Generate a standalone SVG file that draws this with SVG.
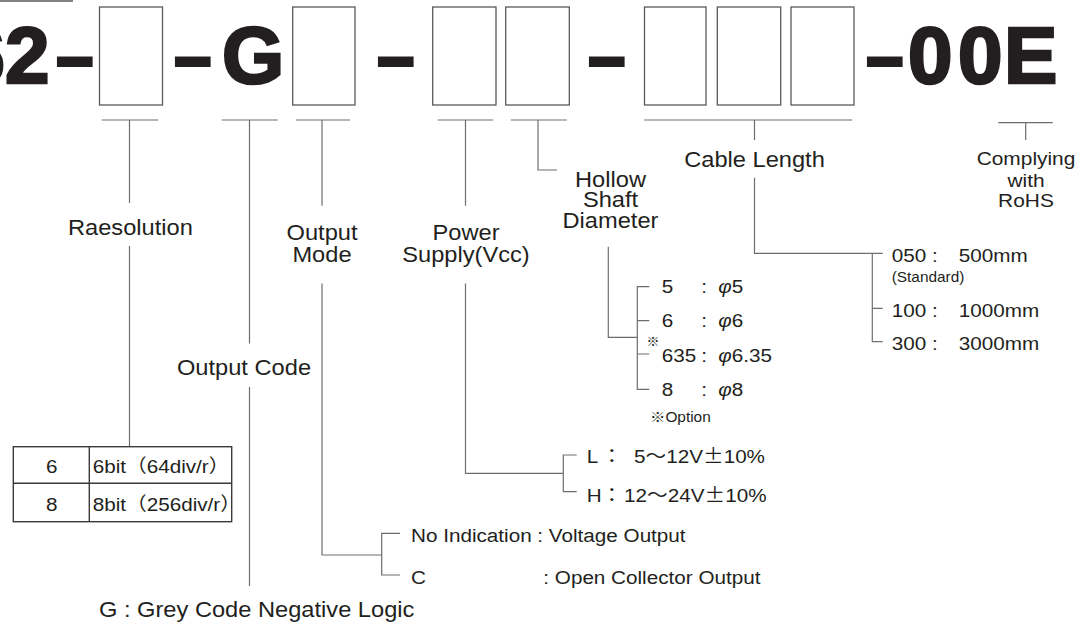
<svg xmlns="http://www.w3.org/2000/svg" width="1075" height="627" viewBox="0 0 1075 627">
<style>
.big{font-family:"Liberation Sans",Arial,sans-serif;font-weight:bold;font-size:80px;fill:#231f20;stroke:#231f20;stroke-width:2.6px}
.dash{font-family:"Liberation Sans",Arial,sans-serif;font-weight:bold;font-size:64px;fill:#231f20;stroke:#231f20;stroke-width:4px}
.t{font-family:"Liberation Sans",Arial,"Noto Sans CJK JP",sans-serif;fill:#231f20}
.lbl{font-size:21.5px}
.opt{font-size:18.8px}
.sm{font-size:14px}
.cjk{font-family:"Noto Sans CJK JP",sans-serif}
.box{fill:#fff;stroke:#58595b;stroke-width:1.3}
.ln{fill:none;stroke:#6d6e71;stroke-width:1.2}
.tbl{fill:none;stroke:#3a3a3c;stroke-width:1.4}
</style>
<rect width="1075" height="627" fill="#fff"/>
<g id="code">
<line x1="0" y1="1" x2="73" y2="1" stroke="#58595b" stroke-width="1.6"/>
<text class="big" x="-39.5 5" y="83">62</text>
<text class="dash" x="57" y="78.5">–</text>
<text class="dash" x="175" y="78.5">–</text>
<text class="big" x="222" y="83">G</text>
<text class="dash" x="378" y="78.5">–</text>
<text class="dash" x="589" y="78.5">–</text>
<text class="dash" x="867" y="78.5">–</text>
<text class="big" x="908 958 1004" y="83">00E</text>
<rect class="box" x="99.5" y="7" width="63" height="98"/>
<rect class="box" x="292.7" y="7" width="62.3" height="98"/>
<rect class="box" x="432.7" y="7" width="63.3" height="98"/>
<rect class="box" x="505.7" y="7" width="63.6" height="98"/>
<rect class="box" x="644.5" y="7" width="61.5" height="98"/>
<rect class="box" x="717.3" y="7" width="63.4" height="98"/>
<rect class="box" x="791" y="7" width="63" height="98"/>
</g>
<g id="connectors">
<path class="ln" d="M101.7 120H158.3M129.5 120V203M129.5 246V446.7"/>
<path class="ln" d="M221.7 120H277.7M249.5 120V343.6M249.5 387V586"/>
<path class="ln" d="M296 120H350M322 120V205.7M322 283.6V555H381.7M400 533.3H381.7V575H400"/>
<path class="ln" d="M437.7 120H493.3M465.5 120V205.7M465.5 283.6V473.3H563.3M576.7 455H563.3V491.7H576.7"/>
<path class="ln" d="M510.7 120H566.7M538 120V170H557"/>
<path class="ln" d="M608.3 246.7V337.3H637.3M649.3 286.7H637.3V389.3H649.3M637.3 320.7H649.3M637.3 354H649.3"/>
<path class="ln" d="M644.3 120H852.3M754.5 120V140M754.5 177.7V253.3H882.7M872.3 253.3V341.7H882.7M872.3 308.3H882.7"/>
<path class="ln" d="M998.3 122.7H1052.7M1025.7 122.7V140"/>
</g>
<g id="resolution">
<text class="t lbl" text-anchor="middle" transform="translate(130.4 235.4) scale(1.1 1)">Raesolution</text>
<rect class="tbl" x="13.3" y="446.7" width="218.4" height="75"/>
<path class="tbl" d="M13.3 483.3H231.7M89.3 446.7V521.7"/>
<text class="t opt" text-anchor="middle" transform="translate(51.7 473.3) scale(1.1 1)">6</text>
<text class="t opt" transform="translate(92.7 473.3) scale(1.1 1)">6bit<tspan class="cjk">（</tspan>64div/r<tspan class="cjk">）</tspan></text>
<text class="t opt" text-anchor="middle" transform="translate(51.7 510.7) scale(1.1 1)">8</text>
<text class="t opt" transform="translate(92.7 510.7) scale(1.1 1)">8bit<tspan class="cjk">（</tspan>256div/r<tspan class="cjk">）</tspan></text>
</g>
<g id="output-code">
<text class="t lbl" text-anchor="middle" transform="translate(244 374.6) scale(1.1 1)">Output Code</text>
<text class="t lbl" transform="translate(99 617.3) scale(1.1 1)">G : Grey Code Negative Logic</text>
</g>
<g id="output-mode">
<text class="t lbl" text-anchor="middle" transform="translate(322 240) scale(1.1 1)">Output</text>
<text class="t lbl" text-anchor="middle" transform="translate(322 262) scale(1.1 1)">Mode</text>
<text class="t opt" transform="translate(411 541.7) scale(1.1 1)">No Indication : Voltage Output</text>
<text class="t opt" transform="translate(411 584.3) scale(1.1 1)">C<tspan x="120.3">: Open Collector Output</tspan></text>
</g>
<g id="power-supply">
<text class="t lbl" text-anchor="middle" transform="translate(466 240) scale(1.1 1)">Power</text>
<text class="t lbl" text-anchor="middle" transform="translate(466 262) scale(1.1 1)">Supply(Vcc)</text>
<text class="t opt" transform="translate(586.7 463.3) scale(1.1 1)">L<tspan class="cjk" x="13.5">：</tspan><tspan x="43">5</tspan><tspan class="cjk">～</tspan>12V<tspan class="cjk">±</tspan>10%</text>
<text class="t opt" transform="translate(586.7 501.7) scale(1.1 1)">H<tspan class="cjk" x="13.5">：</tspan><tspan x="34">12</tspan><tspan class="cjk">～</tspan>24V<tspan class="cjk">±</tspan>10%</text>
</g>
<g id="hollow-shaft">
<text class="t lbl" text-anchor="middle" transform="translate(610.5 186.7) scale(1.1 1)">Hollow</text>
<text class="t lbl" text-anchor="middle" transform="translate(610.5 207.3) scale(1.1 1)">Shaft</text>
<text class="t lbl" text-anchor="middle" transform="translate(610.5 228.3) scale(1.1 1)">Diameter</text>
<text class="t opt" transform="translate(661.7 293.3) scale(1.1 1)">5<tspan x="36">:</tspan><tspan x="51.5" font-style="italic">φ</tspan>5</text>
<text class="t opt" transform="translate(661.7 326.7) scale(1.1 1)">6<tspan x="36">:</tspan><tspan x="51.5" font-style="italic">φ</tspan>6</text>
<text class="t cjk" font-size="13" x="646.5" y="346">※</text>
<text class="t opt" transform="translate(661.7 361.7) scale(1.1 1)">635<tspan x="36">:</tspan><tspan x="51.5" font-style="italic">φ</tspan>6.35</text>
<text class="t opt" transform="translate(661.7 395.7) scale(1.1 1)">8<tspan x="36">:</tspan><tspan x="51.5" font-style="italic">φ</tspan>8</text>
<text class="t sm" transform="translate(650 421.7) scale(1.1 1)"><tspan class="cjk">※</tspan>Option</text>
</g>
<g id="cable-length">
<text class="t lbl" text-anchor="middle" transform="translate(754.5 166.7) scale(1.1 1)">Cable Length</text>
<text class="t opt" transform="translate(891.7 261.7) scale(1.1 1)">050 :<tspan x="61">500mm</tspan></text>
<text class="t sm" transform="translate(891.7 281.7) scale(1.1 1)">(Standard)</text>
<text class="t opt" transform="translate(891.7 316.7) scale(1.1 1)">100 :<tspan x="61">1000mm</tspan></text>
<text class="t opt" transform="translate(891.7 350) scale(1.1 1)">300 :<tspan x="61">3000mm</tspan></text>
</g>
<g id="rohs">
<text class="t" font-size="19" text-anchor="middle" transform="translate(1026 165) scale(1.1 1)">Complying</text>
<text class="t" font-size="19" text-anchor="middle" transform="translate(1026 186.7) scale(1.1 1)">with</text>
<text class="t" font-size="19" text-anchor="middle" transform="translate(1026 206.7) scale(1.1 1)">RoHS</text>
</g>
</svg>
